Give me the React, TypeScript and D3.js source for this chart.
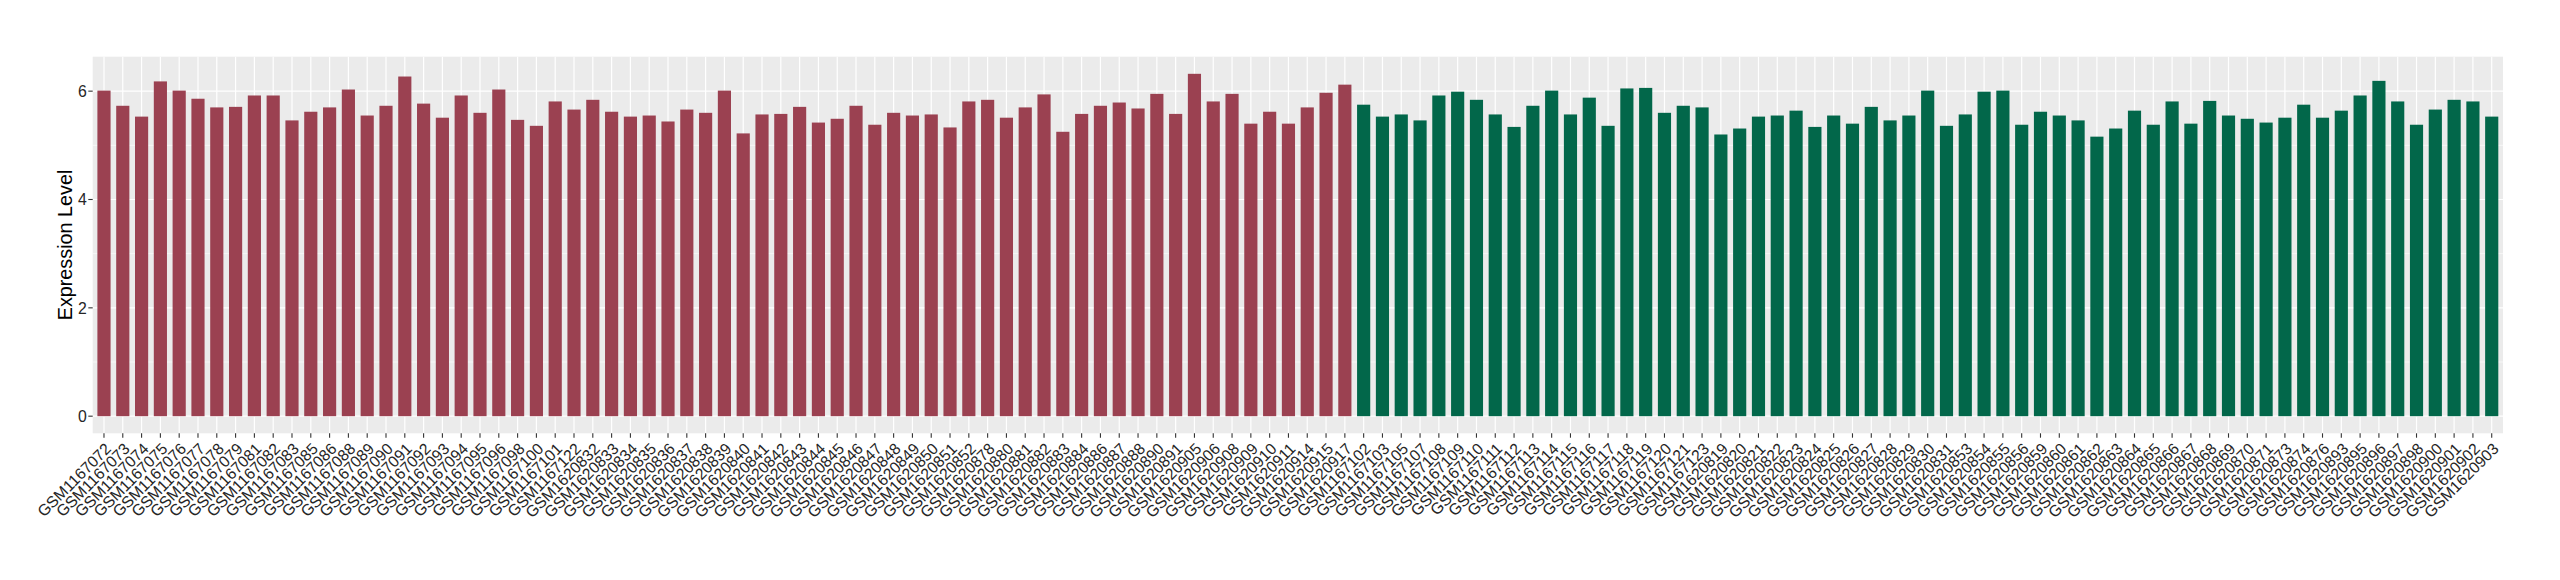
import React from "react";
import * as d3 from "d3";

const redNames = [
  "GSM1167072","GSM1167073","GSM1167074","GSM1167075","GSM1167076","GSM1167077","GSM1167078","GSM1167079",
  "GSM1167081","GSM1167082","GSM1167083","GSM1167085","GSM1167086","GSM1167088","GSM1167089","GSM1167090",
  "GSM1167091","GSM1167092","GSM1167093","GSM1167094","GSM1167095","GSM1167096","GSM1167098","GSM1167100",
  "GSM1167101","GSM1167122",
  "GSM1620832","GSM1620833","GSM1620834","GSM1620835","GSM1620836","GSM1620837","GSM1620838","GSM1620839",
  "GSM1620840","GSM1620841","GSM1620842","GSM1620843","GSM1620844","GSM1620845","GSM1620846",
  "GSM1620847","GSM1620848","GSM1620849","GSM1620850","GSM1620851","GSM1620852",
  "GSM1620878","GSM1620880","GSM1620881","GSM1620882","GSM1620883","GSM1620884","GSM1620886","GSM1620887",
  "GSM1620888","GSM1620890","GSM1620891",
  "GSM1620905","GSM1620906","GSM1620908","GSM1620909","GSM1620910","GSM1620911","GSM1620914","GSM1620915",
  "GSM1620917",
];
const redValues = [
  6.01, 5.73, 5.53, 6.18, 6.01, 5.86, 5.70, 5.71, 5.92, 5.92, 5.46, 5.62, 5.70, 6.03, 5.55, 5.73,
  6.27, 5.77, 5.51, 5.92, 5.60, 6.03, 5.47, 5.36, 5.81, 5.66,
  5.84, 5.62, 5.53, 5.55, 5.44, 5.66, 5.60, 6.01, 5.22, 5.57, 5.58, 5.71, 5.42, 5.49, 5.73,
  5.38, 5.60, 5.55, 5.57, 5.33, 5.81,
  5.84, 5.51, 5.70, 5.94, 5.25, 5.58, 5.73, 5.79, 5.68, 5.95, 5.58,
  6.32, 5.81, 5.95, 5.40, 5.62, 5.40, 5.70, 5.97, 6.12,
];

const greenNames = [
  "GSM1167102","GSM1167103","GSM1167105","GSM1167107","GSM1167108","GSM1167109","GSM1167110","GSM1167111",
  "GSM1167112","GSM1167113","GSM1167114","GSM1167115","GSM1167116","GSM1167117","GSM1167118","GSM1167119",
  "GSM1167120","GSM1167121","GSM1167123",
  "GSM1620819","GSM1620820","GSM1620821","GSM1620822","GSM1620823","GSM1620824","GSM1620825","GSM1620826",
  "GSM1620827","GSM1620828","GSM1620829","GSM1620830","GSM1620831",
  "GSM1620853","GSM1620854","GSM1620855","GSM1620856","GSM1620859","GSM1620860","GSM1620861","GSM1620862",
  "GSM1620863","GSM1620864","GSM1620865","GSM1620866","GSM1620867","GSM1620868","GSM1620869","GSM1620870",
  "GSM1620871","GSM1620873","GSM1620874","GSM1620876",
  "GSM1620893","GSM1620895","GSM1620896","GSM1620897","GSM1620898","GSM1620900","GSM1620901","GSM1620902",
  "GSM1620903",
];
const greenValues = [
  5.75, 5.53, 5.57, 5.46, 5.92, 5.99, 5.84, 5.57, 5.34, 5.73, 6.01, 5.57, 5.88, 5.36, 6.05, 6.06,
  5.60, 5.73, 5.70,
  5.20, 5.31, 5.53, 5.55, 5.64, 5.34, 5.55, 5.40, 5.71, 5.46, 5.55, 6.01, 5.36,
  5.57, 5.99, 6.01, 5.38, 5.62, 5.55, 5.46, 5.16, 5.31, 5.64, 5.38, 5.81, 5.40, 5.82, 5.55, 5.49,
  5.42, 5.51, 5.75, 5.51,
  5.64, 5.92, 6.19, 5.81, 5.38, 5.66, 5.84, 5.81, 5.53,
];

const yTicks = [0, 2, 4, 6];
const yMinor = [1, 3, 5];
const yTitle = "Expression Level";
const groupColors = ["#9B4151", "#02674A"];

export default function App() {
  const W = 2560, H = 580;
  const left = 92.7, right = 2503, top = 56.7, bottom = 433.3;

  const rows = [
    ...redNames.map((n, i) => ({ name: n, value: redValues[i], g: 0 })),
    ...greenNames.map((n, i) => ({ name: n, value: greenValues[i], g: 1 })),
  ];
  const maxV = d3.max(rows, (d) => d.value) as number;
  const pad = maxV * 0.05;

  const x = d3.scaleBand<string>()
    .domain(rows.map((d) => d.name))
    .range([left, right])
    .paddingInner(0.3)
    .paddingOuter(0.25);
  const y = d3.scaleLinear().domain([-pad, maxV + pad]).range([bottom, top]);

  const font = "'Liberation Sans', Arial, Helvetica, sans-serif";
  const tickLen = 4.4;
  const bw = x.bandwidth();
  const textCol = "#262626";

  return (
    <svg width={W} height={H} style={{ position: "absolute", left: 0, top: 0, background: "#fff" }}>
      <rect x={left} y={top} width={right - left} height={bottom - top} fill="#EBEBEB" />
      {yMinor.map((t) => (
        <line key={"mn" + t} x1={left} x2={right} y1={y(t)} y2={y(t)} stroke="#fff" strokeWidth={0.6} />
      ))}
      {yTicks.map((t) => (
        <line key={"mj" + t} x1={left} x2={right} y1={y(t)} y2={y(t)} stroke="#fff" strokeWidth={1.2} />
      ))}
      {rows.map((d) => {
        const cx = (x(d.name) as number) + bw / 2;
        return <line key={"vg" + d.name} x1={cx} x2={cx} y1={top} y2={bottom} stroke="#fff" strokeWidth={1.2} />;
      })}
      {rows.map((d) => (
        <rect
          key={"b" + d.name}
          x={x(d.name) as number}
          width={bw}
          y={y(d.value)}
          height={y(0) - y(d.value)}
          fill={groupColors[d.g]}
        />
      ))}
      {yTicks.map((t) => (
        <g key={"yt" + t}>
          <line x1={left - tickLen} x2={left} y1={y(t)} y2={y(t)} stroke="#333" strokeWidth={1.1} />
          <text
            x={left - tickLen - 1.5}
            y={y(t)}
            dy="0.36em"
            textAnchor="end"
            fontFamily={font}
            fontSize={15.8}
            fill={textCol}
          >
            {t}
          </text>
        </g>
      ))}
      {rows.map((d) => {
        const cx = (x(d.name) as number) + bw / 2;
        const ay = bottom + tickLen + 4;
        return (
          <g key={"xt" + d.name}>
            <line x1={cx} x2={cx} y1={bottom} y2={bottom + tickLen} stroke="#333" strokeWidth={1.1} />
            <text
              transform={`translate(${cx},${ay}) rotate(-45)`}
              dy="0.72em"
              textAnchor="end"
              fontFamily={font}
              fontSize={15.8}
              fill={textCol}
            >
              {d.name}
            </text>
          </g>
        );
      })}
      <text
        transform={`translate(72,${(top + bottom) / 2}) rotate(-90)`}
        textAnchor="middle"
        fontFamily={font}
        fontSize={19.8}
        fill="#000"
      >
        {yTitle}
      </text>
    </svg>
  );
}
